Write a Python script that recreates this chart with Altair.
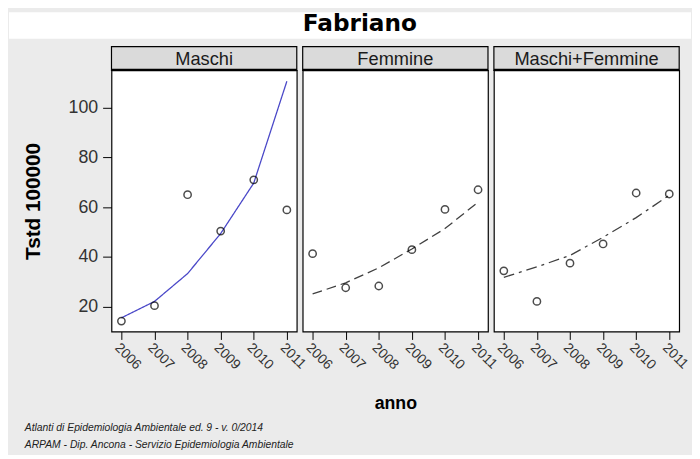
import altair as alt
import pandas as pd

# ---- data ----
years = [2006, 2007, 2008, 2009, 2010, 2011]
panel_names = ["Maschi", "Femmine", "Maschi+Femmine"]
obs_m = [14.2, 20.4, 65.0, 50.4, 71.0, 58.9]
fit_m = [15.5, 22.1, 33.3, 49.4, 69.7, 110.6]
obs_f = [41.3, 27.6, 28.3, 42.9, 59.1, 67.0]
fit_f = [25.1, 29.6, 35.6, 43.2, 51.4, 62.0]
obs_mf = [34.4, 22.1, 37.5, 45.2, 65.7, 65.3]
fit_mf = [31.8, 36.0, 40.6, 47.9, 55.8, 64.8]
y_ticks = [20, 40, 60, 80, 100]
title_text = ["Fabriano"]
y_title = "Tstd 100000"
x_title = "anno"
footnote = [
    "Atlanti di Epidemiologia Ambientale ed. 9 - v. 0/2014",
    "ARPAM - Dip. Ancona - Servizio Epidemiologia Ambientale",
]

W, H, SH = 188, 265, 24
FONT = "Liberation Sans"
xscale = alt.Scale(domain=[2005.7, 2011.3], nice=False, zero=False)
yscale = alt.Scale(domain=[10, 115], nice=False, zero=False)

line_colors = ["#4a48c8", "#404040", "#404040"]
dashes = [[1, 0], [10, 5], [11, 5, 3, 5]]
series = [(obs_m, fit_m), (obs_f, fit_f), (obs_mf, fit_mf)]

LEFT = 104      # px from canvas left to first panel
TOTAL_W = 692


def one(col, val):
    return alt.Chart(pd.DataFrame({col: [val]}))


def panel(i):
    obs, fit = series[i]
    df = pd.DataFrame({"anno": years, "obs": obs, "fit": fit})
    xaxis_kw = dict(values=years, format="d", labelAngle=45, labelAlign="left",
                    labelBaseline="top", tickSize=8, tickColor="black", tickWidth=1,
                    labelFontSize=14, labelFont=FONT, labelColor="#333333",
                    labelPadding=1, domain=False, grid=False, labelOverlap=False,
                    labelFlush=False, labelBound=False)
    if i == 1:
        xaxis = alt.Axis(title=x_title, titleFontSize=18, titleFont=FONT,
                         titleFontWeight="bold", titleColor="black", titlePadding=23,
                         **xaxis_kw)
    else:
        xaxis = alt.Axis(title=None, **xaxis_kw)
    if i == 0:
        yaxis = alt.Axis(values=y_ticks, tickSize=9, tickColor="black",
                         labelFontSize=18, labelFont=FONT, labelColor="#333333",
                         labelPadding=5, domain=False, grid=False,
                         title=y_title, titleFontSize=21, titleFont=FONT,
                         titleFontWeight="bold", titleColor="black",
                         titlePadding=25)
    else:
        yaxis = None
    xenc = alt.X("anno:Q", scale=xscale, axis=xaxis)
    base = alt.Chart(df)
    line = base.mark_line(color=line_colors[i], strokeWidth=1.3,
                          strokeDash=dashes[i]).encode(
        x=xenc, y=alt.Y("fit:Q", scale=yscale, axis=yaxis))
    pts = base.mark_point(shape="circle", filled=False, color="black", size=55,
                          strokeWidth=1.5).encode(
        x=xenc, y=alt.Y("obs:Q", scale=yscale, axis=yaxis))

    # strip header drawn above the panel
    strip_box = one("lab", panel_names[i]).mark_rect(
        fill="#dadada", stroke="black", strokeWidth=1.2).encode(
        x=alt.value(0), x2=alt.value(W), y=alt.value(-SH), y2=alt.value(0))
    strip_rule = one("lab", panel_names[i]).mark_rule(
        color="black", strokeWidth=2.2).encode(
        x=alt.value(0), x2=alt.value(W), y=alt.value(-0.5))
    strip_txt = one("lab", panel_names[i]).mark_text(
        fontSize=18.5, font=FONT, color="#1a1a1a", baseline="middle").encode(
        x=alt.value(W / 2), y=alt.value(-SH / 2 + 1), text="lab:N")

    layers = [line, pts, strip_box, strip_rule, strip_txt]
    if i == 0:
        band = one("t", title_text[0]).mark_rect(color="white").encode(
            x=alt.value(-LEFT), x2=alt.value(TOTAL_W - LEFT),
            y=alt.value(-59), y2=alt.value(-32))
        title = one("t", title_text[0]).mark_text(
            fontSize=23.5, font="DejaVu Sans", fontWeight="bold",
            color="black", baseline="top").encode(
            x=alt.value(252), y=alt.value(-59), text="t:N")
        layers = [band, title] + layers
        for k, line_txt in enumerate(footnote):
            layers.append(
                one("t", line_txt).mark_text(
                    fontSize=10.5, font=FONT, fontStyle="italic",
                    color="#222222", align="left", baseline="middle")
                .encode(x=alt.value(-88), y=alt.value(363 + 17 * k), text="t:N")
            )
    return alt.layer(*layers).properties(
        width=W, height=H,
        view=alt.ViewBackground(fill="white", stroke="black", strokeWidth=1.2))


chart = (
    alt.hconcat(*[panel(i) for i in range(3)], spacing=6, bounds="flush")
    .properties(background="#ebebeb", padding=0)
    .configure_axis(labelOverlap=False)
)

chart.save("out.html", embed_options={"renderer": "svg", "actions": False})
